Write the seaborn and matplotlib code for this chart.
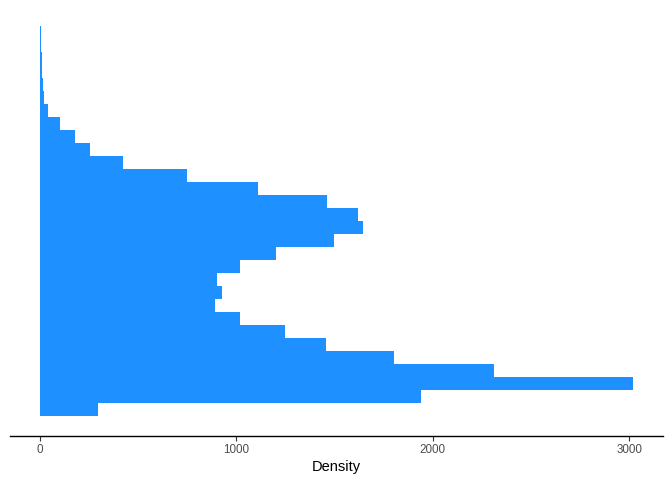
import numpy as np
import pandas as pd
import matplotlib
matplotlib.use("Agg")
import matplotlib.pyplot as plt
import seaborn as sns

# bar lengths (density), bottom bin to top bin
density = [295, 1941, 3021, 2313, 1805, 1459, 1246, 1017, 894, 926,
           904, 1017, 1205, 1500, 1646, 1622, 1462, 1113, 752, 422,
           254, 182, 102, 41, 20, 15, 10, 10, 6, 6]
edges = list(range(len(density) + 1))
centers = [e + 0.5 for e in edges[:-1]]
xticks = [0, 1000, 2000, 3000]

df = pd.DataFrame({"bin": centers, "density": density})

sns.set_style("white")
plt.rcParams['font.family'] = ['Liberation Sans', 'DejaVu Sans']

fig = plt.figure(figsize=(6.72, 4.8), dpi=100)
ax = fig.add_axes([10 / 672, 1 - 435.5 / 480, 653 / 672, 429 / 480])

sns.histplot(data=df, y="bin", weights="density", bins=edges, color="#1E90FF",
             alpha=1, edgecolor="none", linewidth=0, ax=ax)

xmax = max(density)
ax.set_xlim(-0.05 * xmax, xmax * 1.05)
ax.set_ylim(-1.5, len(density) + 1.5)
ax.set_xticks(xticks)
ax.set_xticklabels([str(t) for t in xticks], color="#4D4D4D", fontsize=8.4)
ax.set_yticks([])
ax.set_ylabel("")
ax.set_xlabel("Density", fontsize=10.5, color="black", labelpad=3)
ax.tick_params(axis="x", bottom=True, length=3.7, width=0.8, color="#333333", pad=2.5)

for s in ["top", "right", "left"]:
    ax.spines[s].set_visible(False)
ax.spines["bottom"].set_color("black")
ax.spines["bottom"].set_linewidth(1.0)

fig.savefig("out.png", dpi=100)
